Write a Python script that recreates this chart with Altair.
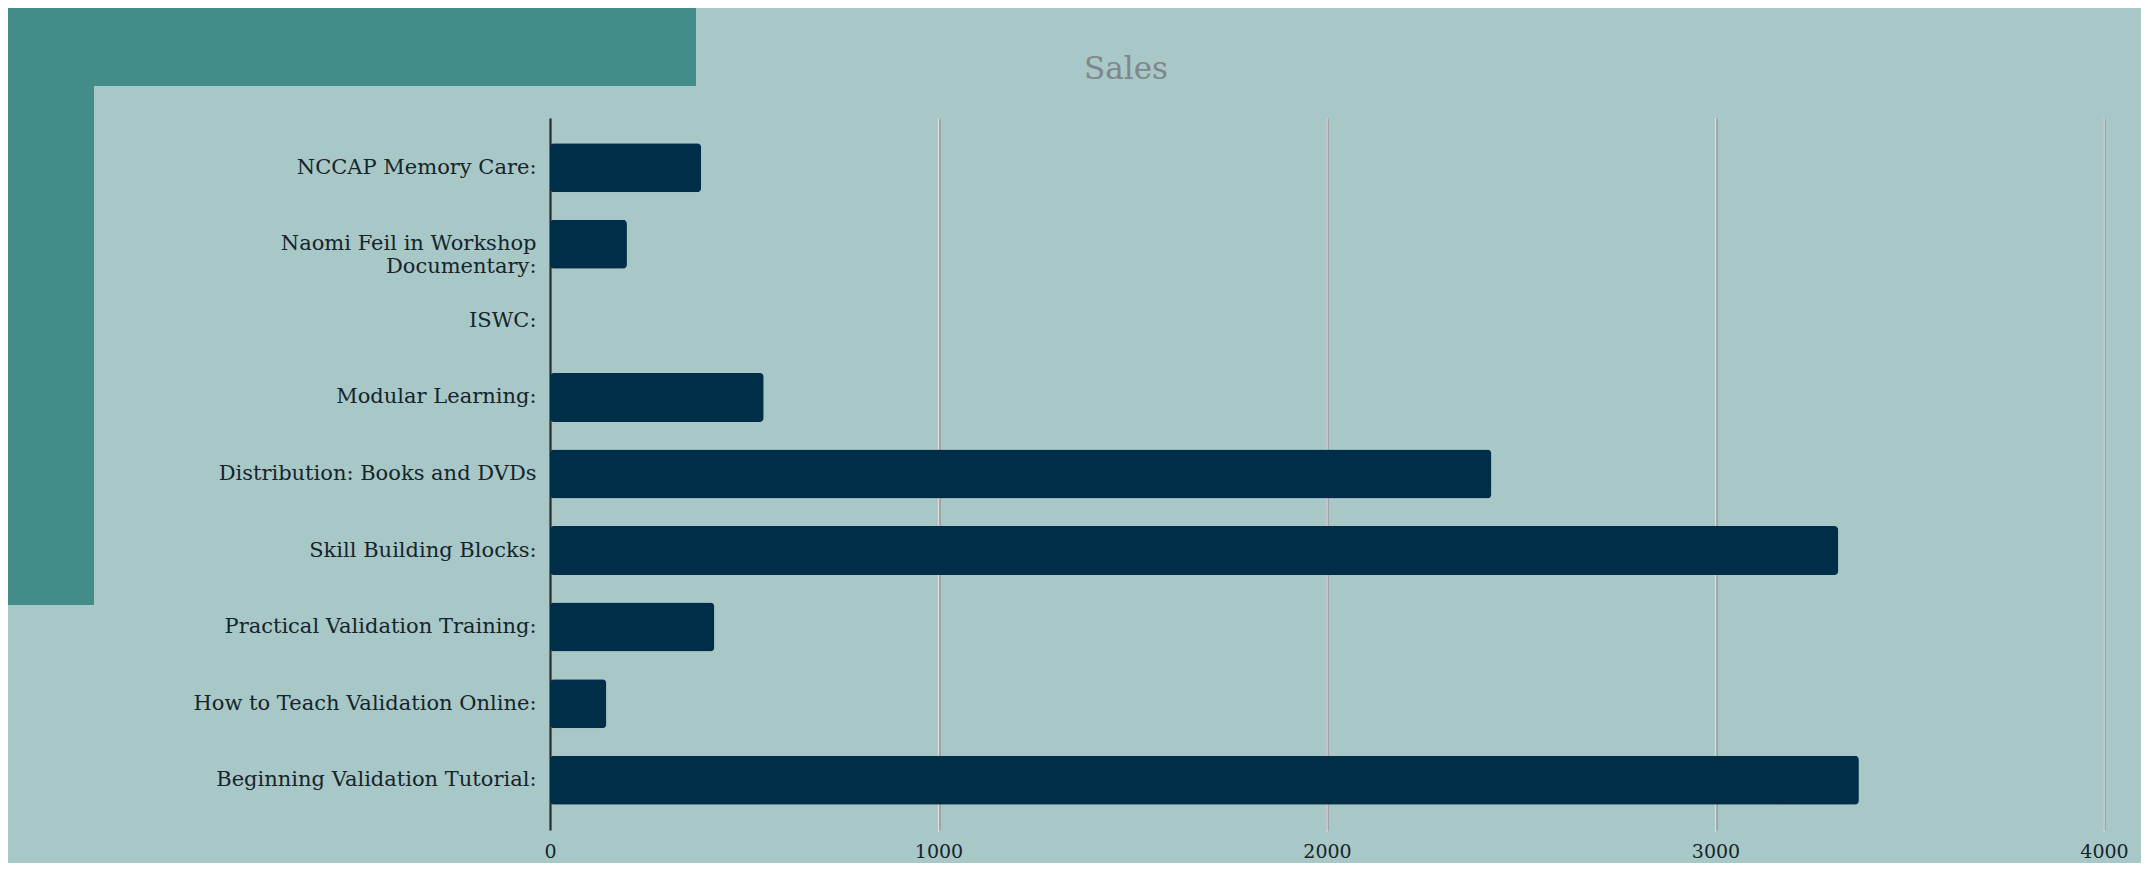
import altair as alt
import pandas as pd

categories = [
    "NCCAP Memory Care:",
    "Naomi Feil in Workshop Documentary:",
    "ISWC:",
    "Modular Learning:",
    "Distribution: Books and DVDs",
    "Skill Building Blocks:",
    "Practical Validation Training:",
    "How to Teach Validation Online:",
    "Beginning Validation Tutorial:",
]
sales = [389, 198, 0, 550, 2423, 3316, 423, 145, 3369]
x_ticks = [0, 1000, 2000, 3000, 4000]
grid_values = [1000, 2000, 3000, 4000]
title_text = ["Sales"]

W, H = 1554, 712
BG = "#a8c8c8"
BAR = "#002e48"
DECOR = "#428d89"
FONT = "DejaVu Serif"

df = pd.DataFrame({"category": categories, "sales": sales})
one = pd.DataFrame({"k": [0]})
grid_df = pd.DataFrame({"v": grid_values})
title_df = pd.DataFrame({"t": title_text})

x_scale = alt.Scale(domain=[0, 4000], nice=False, zero=True)

label_expr = (
    "datum.label == 'Naomi Feil in Workshop Documentary:' ? "
    "['Naomi Feil in Workshop', 'Documentary:'] : datum.label"
)

bars = alt.Chart(df).mark_bar(color=BAR, cornerRadius=4).encode(
    x=alt.X(
        "sales:Q",
        scale=x_scale,
        axis=alt.Axis(
            values=x_ticks,
            format="d",
            title=None,
            domain=False,
            ticks=False,
            grid=True,
            gridColor="#9ea3a5",
            gridWidth=3,
            labelFont=FONT,
            labelFontSize=19,
            labelColor="#16242b",
            labelBaseline="middle",
            labelPadding=21,
            labelFlush=False,
        ),
    ),
    y=alt.Y(
        "category:N",
        sort=categories,
        scale=alt.Scale(paddingInner=0.36, paddingOuter=0.33),
        axis=alt.Axis(
            title=None,
            ticks=False,
            domain=True,
            domainColor="#2b2b2b",
            domainWidth=2,
            grid=False,
            labelFont=FONT,
            labelFontSize=21,
            labelColor="#16242b",
            labelPadding=14,
            labelLimit=600,
            labelLineHeight=23,
            labelExpr=label_expr,
        ),
    ),
)

grid_inner = alt.Chart(grid_df).mark_rule(color="#dcdede", strokeWidth=1.2).encode(
    x=alt.X("v:Q", scale=x_scale),
    y=alt.value(0),
    y2=alt.value(H + 2),
)

decor_top = alt.Chart(one).mark_rect(color=DECOR).encode(
    x=alt.value(-542), x2=alt.value(146), y=alt.value(-111), y2=alt.value(-32)
)
decor_left = alt.Chart(one).mark_rect(color=DECOR).encode(
    x=alt.value(-542), x2=alt.value(-456), y=alt.value(-111), y2=alt.value(487)
)

title = alt.Chart(title_df).mark_text(
    font=FONT, fontSize=31, color="#80868a", align="center", baseline="middle"
).encode(text="t:N", x=alt.value(576), y=alt.value(-48))

chart = (
    alt.layer(decor_top, decor_left, grid_inner, bars, title)
    .properties(
        width=W,
        height=H,
        background=BG,
        padding={"left": 542, "top": 110, "right": 37, "bottom": 33},
        autosize=alt.AutoSizeParams(type="none"),
    )
    .configure_view(stroke=None)
)

chart.save("out.html", embed_options={"renderer": "svg", "actions": False})
